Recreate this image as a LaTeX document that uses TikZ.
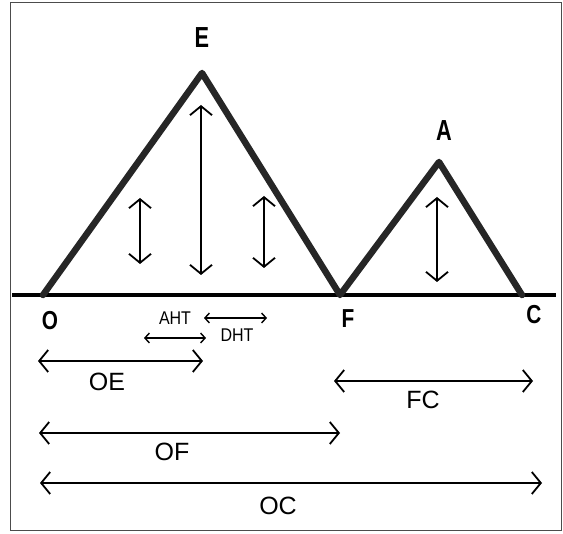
\documentclass[tikz,border=0pt]{standalone}
\usepackage{fontspec}
\setmainfont{Liberation Sans}
\usetikzlibrary{arrows.meta}
\begin{document}
\begin{tikzpicture}[x=1pt,y=-1pt,
  mtn/.style={line width=6.5pt,line join=round,line cap=round,black!85},
  dim/.style={line width=1.8pt,{Straight Barb[length=9pt,width=22pt]}-{Straight Barb[length=9pt,width=22pt]}},
  sdim/.style={line width=1.4pt,{Straight Barb[length=4.5pt,width=10pt]}-{Straight Barb[length=4.5pt,width=10pt]}},
  pt/.style={font=\bfseries\fontsize{26}{26}\selectfont,inner sep=0pt,xscale=0.8},
  bigpt/.style={font=\bfseries\fontsize{29}{29}\selectfont,inner sep=0pt,xscale=0.75},
  lab/.style={font=\fontsize{25}{25}\selectfont,inner sep=0pt},
  slab/.style={font=\fontsize{16}{16}\selectfont,inner sep=0pt,yscale=1.15}]
\useasboundingbox (0,0) rectangle (563,534);
\draw[line width=1pt,black!70] (10,3) rectangle (561,531);
\coordinate (L) at (12,295);
\coordinate (R) at (556,295);
\coordinate (O) at (43,295);
\coordinate (E) at (202,73);
\coordinate (F) at (340,295);
\coordinate (A) at (439,162);
\coordinate (C) at (522,295);
\draw[line width=4.5pt] (L) -- (R);
\draw[mtn] (O) -- (E) -- (F) -- (A) -- (C);
\node[bigpt] (lE) at (202,38) {E};
\node[bigpt] (lA) at (444,131) {A};
\node[pt] (lO) at (50,321) {O};
\node[pt] (lF) at (348,319) {F};
\node[pt] (lC) at (534,315) {C};
% vertical arrows
\coordinate (v1t) at (140,198); \coordinate (v1b) at (140,264);
\coordinate (v2t) at (201,105); \coordinate (v2b) at (201,275);
\coordinate (v3t) at (264,196); \coordinate (v3b) at (264,268);
\coordinate (v4t) at (437,197); \coordinate (v4b) at (437,282);
\draw[dim] (v1t) -- (v1b);
\draw[dim] (v2t) -- (v2b);
\draw[dim] (v3t) -- (v3b);
\draw[dim] (v4t) -- (v4b);
% AHT / DHT
\coordinate (a1) at (144,338); \coordinate (a2) at (206,338);
\coordinate (d1) at (204,318); \coordinate (d2) at (267,318);
\draw[sdim] (a1) -- (a2);
\draw[sdim] (d1) -- (d2);
\node[slab] (lAHT) at (175,318) {AHT};
\node[slab] (lDHT) at (237,335) {DHT};
% horizontal dimensions
\coordinate (oe1) at (38,361); \coordinate (oe2) at (203,361);
\coordinate (fc1) at (334,381); \coordinate (fc2) at (533,381);
\coordinate (of1) at (39,433); \coordinate (of2) at (340,433);
\coordinate (oc1) at (40,483); \coordinate (oc2) at (542,483);
\draw[dim] (oe1) -- (oe2);
\draw[dim] (fc1) -- (fc2);
\draw[dim] (of1) -- (of2);
\draw[dim] (oc1) -- (oc2);
\node[lab] (lOE) at (107,382) {OE};
\node[lab] (lFC) at (423,400) {FC};
\node[lab] (lOF) at (172,452) {OF};
\node[lab] (lOC) at (278,506) {OC};
\end{tikzpicture}
\end{document}
